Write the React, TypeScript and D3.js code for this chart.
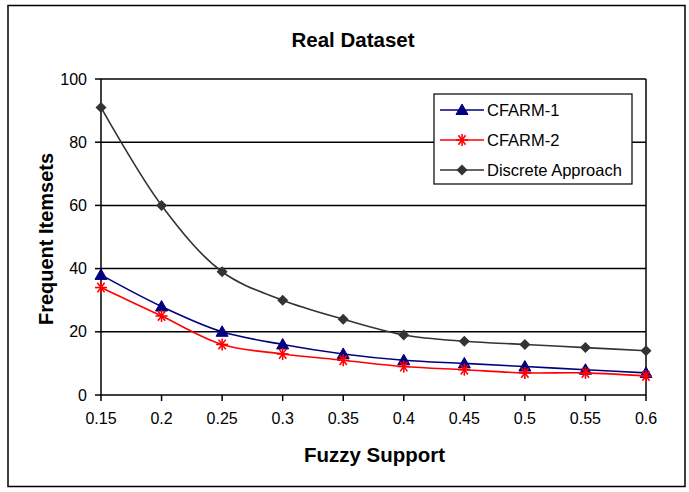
import React from "react";
import * as d3 from "d3";

const supports = [0.15, 0.2, 0.25, 0.3, 0.35, 0.4, 0.45, 0.5, 0.55, 0.6];
const xTickLabels = ["0.15", "0.2", "0.25", "0.3", "0.35", "0.4", "0.45", "0.5", "0.55", "0.6"];
const cfarm1 = [38, 28, 20, 16, 13, 11, 10, 9, 8, 7];
const cfarm2 = [34, 25, 16, 13, 11, 9, 8, 7, 7, 6];
const discrete = [91, 60, 39, 30, 24, 19, 17, 16, 15, 14];
const yTicks = [0, 20, 40, 60, 80, 100];
const seriesNames = ["CFARM-1", "CFARM-2", "Discrete Approach"];

const W = 689, H = 492;
const left = 101, right = 646, top = 79, bottom = 395;
const font = "'Liberation Sans', Arial, sans-serif";

function Marker({ kind, x, y }: { kind: string; x: number; y: number }) {
  if (kind === "tri") {
    const s = 6;
    return <path d={`M${x},${y - s}L${x + s},${y + s * 0.75}L${x - s},${y + s * 0.75}Z`} fill="#000080" stroke="#000080" strokeWidth={1} />;
  }
  if (kind === "star") {
    const s = 6;
    return (
      <g stroke="#FF0000" strokeWidth={1.6}>
        <line x1={x - s} y1={y} x2={x + s} y2={y} />
        <line x1={x - s * 0.6} y1={y - s * 0.8} x2={x + s * 0.6} y2={y + s * 0.8} />
        <line x1={x + s * 0.6} y1={y - s * 0.8} x2={x - s * 0.6} y2={y + s * 0.8} />
        <line x1={x} y1={y - s} x2={x} y2={y + s} />
      </g>
    );
  }
  const s = 5.5;
  return <path d={`M${x},${y - s}L${x + s},${y}L${x},${y + s}L${x - s},${y}Z`} fill="#333333" />;
}

export default function App() {
  const x = d3.scalePoint<number>().domain(supports).range([left, right]);
  const y = d3.scaleLinear().domain([0, 100]).range([bottom, top]);
  const line = d3
    .line<number>()
    .x((_, i) => x(supports[i]) as number)
    .y((d) => y(d))
    .curve(d3.curveCatmullRom.alpha(0.5));

  const series = [
    { name: seriesNames[0], data: cfarm1, color: "#000080", marker: "tri" },
    { name: seriesNames[1], data: cfarm2, color: "#FF0000", marker: "star" },
    { name: seriesNames[2], data: discrete, color: "#333333", marker: "dia" },
  ];

  const lgX = 434, lgY = 94, lgW = 198, lgH = 90;

  return (
    <svg width={W} height={H} style={{ position: "absolute", left: 0, top: 0 }}>
      <rect x={0} y={0} width={W} height={H} fill="#fff" />
      <rect x={8} y={5.5} width={677} height={481} fill="none" stroke="#000" strokeWidth={1.5} />
      <text x={353} y={47} textAnchor="middle" fontFamily={font} fontWeight="bold" fontSize={21} textLength={123} lengthAdjust="spacingAndGlyphs">Real Dataset</text>

      {yTicks.map((t) => (
        <g key={t}>
          <line x1={left} x2={right} y1={y(t)} y2={y(t)} stroke="#000" strokeWidth={1.5} />
          <line x1={left - 6} x2={left} y1={y(t)} y2={y(t)} stroke="#000" strokeWidth={1.5} />
          <text x={87} y={y(t) + 5.5} textAnchor="end" fontFamily={font} fontSize={16}>{t}</text>
        </g>
      ))}
      <line x1={left} x2={left} y1={top} y2={bottom} stroke="#000" strokeWidth={1.5} />
      <line x1={right} x2={right} y1={top} y2={bottom} stroke="#000" strokeWidth={1.5} />
      {supports.map((s, i) => (
        <g key={s}>
          <line x1={x(s)} x2={x(s)} y1={bottom} y2={bottom + 6} stroke="#000" strokeWidth={1.5} />
          <text x={x(s)} y={424} textAnchor="middle" fontFamily={font} fontSize={16}>{xTickLabels[i]}</text>
        </g>
      ))}

      {series.map((s) => (
        <g key={s.name}>
          <path d={line(s.data) || ""} fill="none" stroke={s.color} strokeWidth={1.6} />
          {s.data.map((v, i) => (
            <Marker key={i} kind={s.marker} x={x(supports[i]) as number} y={y(v)} />
          ))}
        </g>
      ))}

      <text x={374.5} y={462} textAnchor="middle" fontFamily={font} fontWeight="bold" fontSize={21} textLength={141} lengthAdjust="spacingAndGlyphs">Fuzzy Support</text>
      <text transform="translate(53,239) rotate(-90)" textAnchor="middle" fontFamily={font} fontWeight="bold" fontSize={20} textLength={172} lengthAdjust="spacingAndGlyphs">Frequent Itemsets</text>

      <rect x={lgX} y={lgY} width={lgW} height={lgH} fill="#fff" stroke="#000" strokeWidth={1.2} />
      {series.map((s, i) => {
        const ly = lgY + 16 + i * 30;
        return (
          <g key={s.name}>
            <line x1={lgX + 6} x2={lgX + 50} y1={ly} y2={ly} stroke={s.color} strokeWidth={1.6} />
            <Marker kind={s.marker} x={lgX + 28} y={ly} />
            <text x={lgX + 53} y={ly + 6} fontFamily={font} fontSize={16.5}>{s.name}</text>
          </g>
        );
      })}
    </svg>
  );
}
